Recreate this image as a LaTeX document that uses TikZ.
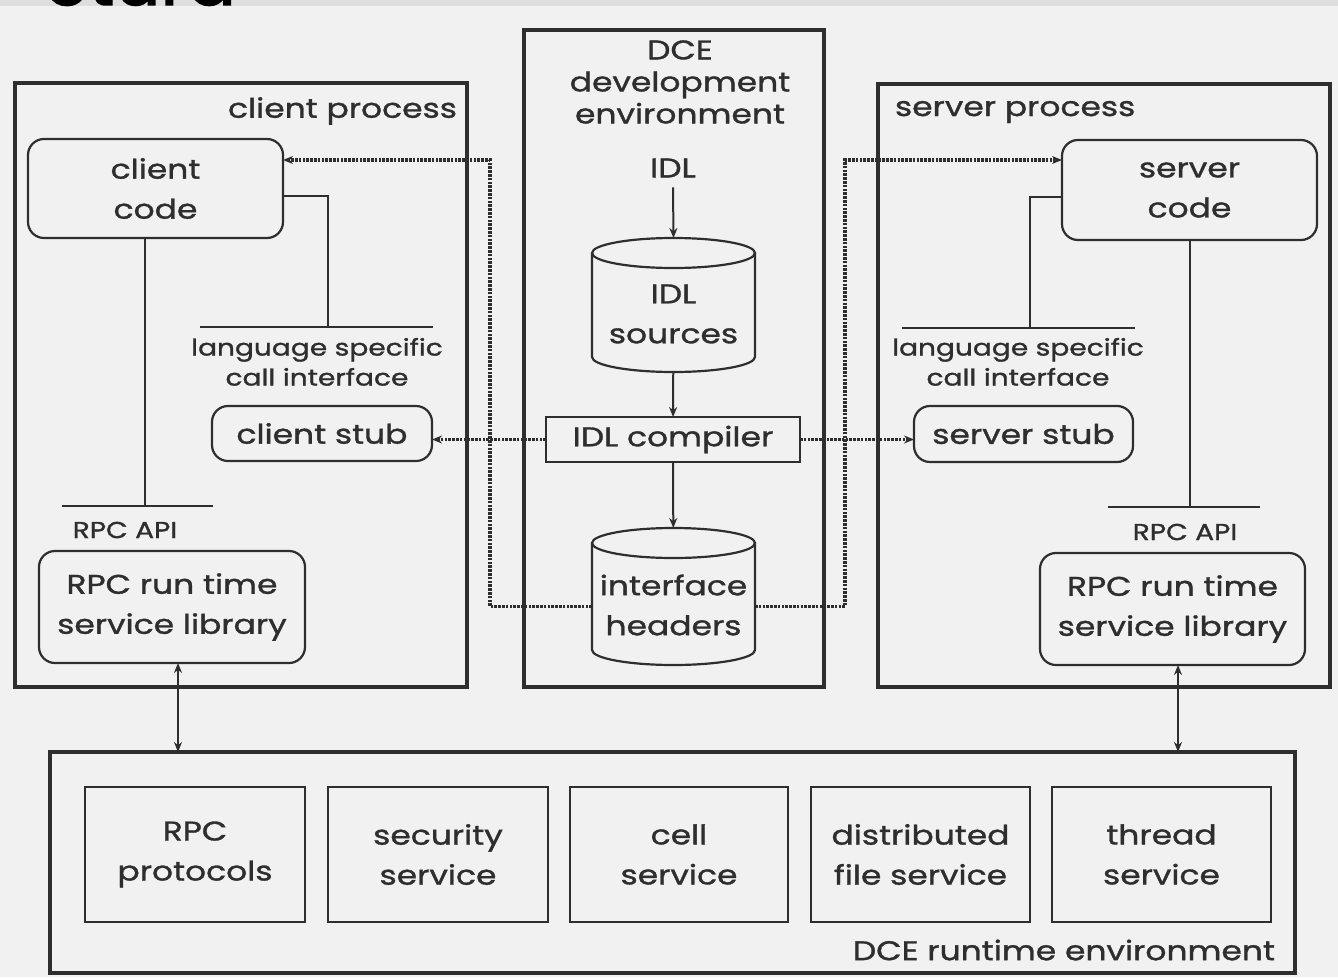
\documentclass[tikz,border=0pt]{standalone}
\usepackage{fontspec}
\setmainfont{Poppins}[FakeStretch=1.22, FakeBold=1.2]
\newfontfamily\titlefont{Poppins}[FakeBold=2]
\usetikzlibrary{arrows.meta,calc}
\definecolor{ink}{HTML}{2E2E2E}
\definecolor{paper}{HTML}{F1F1F1}
\definecolor{band}{HTML}{DEDEDE}
\begin{document}
\begin{tikzpicture}[x=1pt,y=-1pt,
  every node/.style={inner sep=0pt, outer sep=0pt, align=center, text=ink,
    font=\fontsize{27}{40}\selectfont},
  small/.style={font=\fontsize{23}{30}\selectfont},
  frame/.style={draw=ink, line width=3.5pt},
  rbox/.style={draw=ink, line width=2.2pt, rounded corners=16pt},
  sbox/.style={draw=ink, line width=2.2pt},
  wire/.style={draw=ink, line width=2pt},
  tip/.tip={Stealth[length=10pt,width=8pt]},
  flow/.style={wire, -tip},
  both/.style={wire, tip-tip},
  dots/.style={draw=ink, line width=3.2pt, dash pattern=on 2.6pt off 1.2pt, -tip},
  cyl/.style={draw=ink, line width=2.2pt},
]
\useasboundingbox (0,0) rectangle (1338,977);
\fill[paper] (0,0) rectangle (1338,977);
\fill[band] (0,0) rectangle (1338,6);
\begin{scope}
  \clip (0,0) rectangle (1338,6);
  \node[anchor=base east, text=black, font=\fontsize{72}{80}\titlefont] (title) at (236,5) {ctura};
\end{scope}

% ---------------- client process ----------------
\node[frame, minimum width=452, minimum height=604, anchor=north west] (cproc) at (15,83) {};
\node[anchor=east] (cproclbl) at (457,111) {client process};
\node[rbox, minimum width=255, minimum height=99, anchor=north west] (ccode) at (28,139) {client\\code};
\node[small, anchor=north] (clsi) at (317,338) {language specific\\call interface};
\node[rbox, minimum width=220, minimum height=55, anchor=north west] (cstub) at (212,406) {client stub};
\node[small] (capilbl) at (125,530) {RPC API};
\node[rbox, minimum width=266, minimum height=112, anchor=north west] (clib) at (39,551) {RPC run time\\service library};
\coordinate (clsT) at (328,327);
\coordinate (capiT) at (145,506);
\draw[wire] (200,327) -- (433,327);
\draw[wire] (62,506) -- (213,506);
\draw[wire] ([yshift=-7pt]ccode.east) -| (clsT);
\draw[wire] (ccode.south -| capiT) -- (capiT);

% ---------------- DCE development environment ----------------
\node[frame, minimum width=300, minimum height=657, anchor=north west] (dev) at (524,30) {};
\node[font=\fontsize{27}{32}\selectfont] (devlbl) at (680,82) {DCE\\development\\environment};
\node (idl) at (673,168) {IDL};
\node[minimum width=163, minimum height=134] (isrc) at (673.5,305) {};
\node (isrclbl) at (673.5,314) {IDL\\sources};
\draw[cyl] ([yshift=-15pt]isrc.north west) -- ([yshift=15pt]isrc.south west)
  arc[start angle=180, end angle=0, x radius=81.5, y radius=15] -- ([yshift=-15pt]isrc.north east);
\draw[cyl] ([yshift=-15pt]isrc.north) ellipse[x radius=81.5, y radius=15];
\node[sbox, minimum width=254, minimum height=45] (idlc) at (673,439.5) {IDL compiler};
\node[minimum width=163, minimum height=137] (ihdr) at (673.5,596.5) {};
\node (ihdrlbl) at (673.5,605) {interface\\headers};
\draw[cyl] ([yshift=-15pt]ihdr.north west) -- ([yshift=15pt]ihdr.south west)
  arc[start angle=180, end angle=0, x radius=81.5, y radius=15] -- ([yshift=-15pt]ihdr.north east);
\draw[cyl] ([yshift=-15pt]ihdr.north) ellipse[x radius=81.5, y radius=15];
\draw[flow] ([yshift=-10pt]idl.south) -- (isrc.north);
\draw[flow] (isrc) -- (idlc);
\draw[flow] (idlc) -- (ihdr);

% ---------------- server process ----------------
\node[frame, minimum width=452, minimum height=603, anchor=north west] (sproc) at (878,84) {};
\node[anchor=west] (sproclbl) at (895,112) {server process};
\node[rbox, minimum width=255, minimum height=100, anchor=north west] (scode) at (1062,140) {server\\code};
\node[small, anchor=north] (slsi) at (1018,338) {language specific\\call interface};
\node[rbox, minimum width=219, minimum height=56, anchor=north west] (sstub) at (914,406) {server stub};
\node[small] (sapilbl) at (1185,532) {RPC API};
\node[rbox, minimum width=265, minimum height=112, anchor=north west] (slib) at (1040,553) {RPC run time\\service library};
\coordinate (slsT) at (1030,328);
\coordinate (sapiT) at (1190,507);
\draw[wire] (902,328) -- (1135,328);
\draw[wire] (1108,507) -- (1260,507);
\draw[wire] ([yshift=-7pt]scode.west) -| (slsT);
\draw[wire] (scode.south -| sapiT) -- (sapiT);

% ---------------- generated code paths ----------------
\coordinate (lbus) at (490,160);
\coordinate (rbus) at (845,160);
\draw[dots] (idlc.west) -- (idlc.west -| cstub.east);
\draw[dots] (idlc.east) -- (idlc.east -| sstub.west);
\draw[dots] ([yshift=-10pt]ihdr.west) -| (lbus) -- (ccode.east |- lbus);
\draw[dots] ([yshift=-10pt]ihdr.east) -| (rbus) -- (scode.west |- rbus);

% ---------------- DCE runtime environment ----------------
\node[frame, minimum width=1245, minimum height=221, anchor=north west] (rte) at (50,752) {};
\node[anchor=east] (rtelbl) at (1275,950) {DCE runtime environment};
\begin{scope}[every node/.append style={sbox, minimum height=135, anchor=north west}]
\node[minimum width=220] (rpcp) at (85,787) {RPC\\protocols};
\node[minimum width=220] (secs) at (328,787) {security\\service};
\node[minimum width=218] (cells) at (570,787) {cell\\service};
\node[minimum width=219] (dfs) at (811,787) {distributed\\file service};
\node[minimum width=219] (thrs) at (1052,787) {thread\\service};
\end{scope}

\draw[both] ([xshift=6pt]clib.south) -- ([xshift=6pt]clib.south |- rte.north);
\draw[both] ([xshift=5.5pt]slib.south) -- ([xshift=5.5pt]slib.south |- rte.north);
\end{tikzpicture}
\end{document}
